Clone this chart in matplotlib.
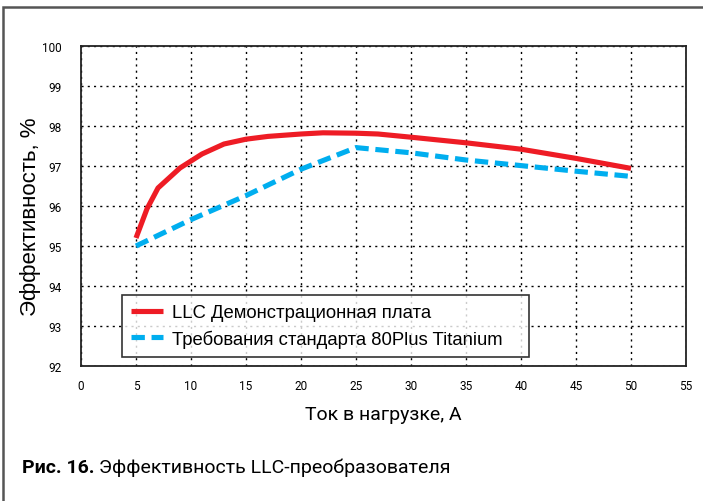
import matplotlib
matplotlib.use("Agg")
import matplotlib.pyplot as plt
from matplotlib.patches import Rectangle

# Efficiency of the LLC demo board vs. load current
llc_current = [5, 6, 7, 9, 11, 13, 15, 17, 20, 22, 25, 27, 30, 35, 40, 45, 50]
llc_eff = [95.2, 95.93, 96.45, 96.95, 97.3, 97.55, 97.67, 97.74, 97.8, 97.83,
           97.82, 97.8, 97.72, 97.58, 97.42, 97.19, 96.94]

# 80Plus Titanium requirement
ti_current = [5, 10, 15, 20, 25, 30, 35, 40, 45, 50]
ti_eff = [95.0, 95.66, 96.26, 96.92, 97.46, 97.33, 97.15, 97.01, 96.87, 96.74]

x_ticks = [0, 5, 10, 15, 20, 25, 30, 35, 40, 45, 50, 55]
y_ticks = [92, 93, 94, 95, 96, 97, 98, 99, 100]

series_labels = ["LLC Демонстрационная плата", "Требования стандарта 80Plus Titanium"]
x_title = "Ток в нагрузке, А"
y_title = "Эффективность, %"
caption_bold = "Рис. 16."
caption_rest = " Эффективность LLC-преобразователя"

narrow = "Roboto"

fig = plt.figure(figsize=(7.03, 5.02), dpi=100)
W, H = 703, 502
ax_l, ax_r, ax_t, ax_b = 81, 686, 47, 367
ax = fig.add_axes([ax_l / W, 1 - ax_b / H, (ax_r - ax_l) / W, (ax_b - ax_t) / H])

ax.plot(llc_current, llc_eff, color="#ee1c25", lw=3.7, solid_capstyle="butt",
        label=series_labels[0], zorder=3)
ax.plot(ti_current, ti_eff, color="#00aeef", lw=3.7, ls=(0, (2.6, 1.3)),
        dash_capstyle="butt", label=series_labels[1], zorder=3)

ax.set_xlim(0, 55)
ax.set_ylim(92, 100)
ax.set_xticks(x_ticks)
ax.set_yticks(y_ticks)
ax.set_xticklabels([str(v) for v in x_ticks], family=narrow, fontsize=8.5)
ax.set_yticklabels([str(v) for v in y_ticks], family=narrow, fontsize=8.5)
ax.tick_params(axis="y", length=0, pad=14)
ax.tick_params(axis="x", length=0, pad=9)
ax.grid(True, color="black", ls=(0, (1.5, 3)), lw=1)
for s in ax.spines.values():
    s.set_linewidth(1.3)
    s.set_color("#222222")

ax.set_xlabel(x_title, family=narrow, fontsize=14, labelpad=10)
ax.set_ylabel(y_title, family="Liberation Sans", fontsize=16)
ax.yaxis.set_label_coords((41 - ax_l) / (ax_r - ax_l), 0.47)

# legend box spans a fixed region of the plot
lx0, lx1, ly0, ly1 = 122, 529, 296, 358
leg = ax.legend(loc="upper left",
                bbox_to_anchor=((lx0 - ax_l) / (ax_r - ax_l), (ax_b - ly1) / (ax_b - ax_t),
                                (lx1 - lx0) / (ax_r - ax_l), (ly1 - ly0) / (ax_b - ax_t)),
                mode="expand", frameon=True, fancybox=False, edgecolor="black",
                prop={"family": "Liberation Sans", "size": 13.3}, handlelength=1.7,
                borderpad=0.5, labelspacing=0.45, handletextpad=0.5,
                borderaxespad=0)
leg.get_frame().set_linewidth(1.2)
leg.set_zorder(5)

# outer frame
fig.patches.append(Rectangle((3 / W, -0.1), 1.1, 1 - 8 / H + 0.1, transform=fig.transFigure,
                             fill=False, edgecolor="#555555", lw=1.8))

t1 = fig.text(22 / W, 1 - 468 / H, caption_bold, family=narrow, weight="bold",
              fontsize=14, va="center", ha="left")
fig.canvas.draw()
bb = t1.get_window_extent()
fig.text(bb.x1 / W, 1 - 468 / H, caption_rest, family=narrow, fontsize=14,
         va="center", ha="left")

fig.savefig("out.png", dpi=100)
